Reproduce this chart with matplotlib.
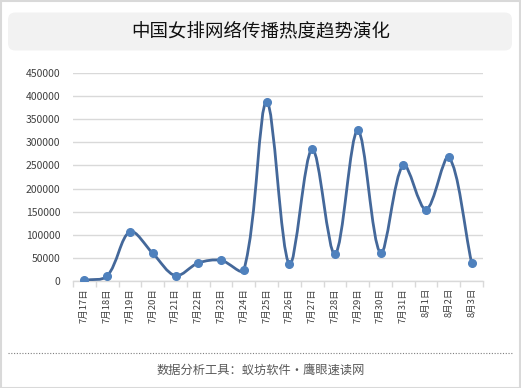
import numpy as np
import matplotlib.pyplot as plt
from matplotlib.path import Path
from matplotlib.patches import PathPatch, FancyBboxPatch, Rectangle
from matplotlib.lines import Line2D

plt.rcParams['font.family'] = ['Noto Sans CJK SC', 'DejaVu Sans']

title = '中国女排网络传播热度趋势演化'
footer = '数据分析工具：蚁坊软件·鹰眼速读网'
dates = ['7月17日', '7月18日', '7月19日', '7月20日', '7月21日', '7月22日',
         '7月23日', '7月24日', '7月25日', '7月26日', '7月27日', '7月28日',
         '7月29日', '7月30日', '7月31日', '8月1日', '8月2日', '8月3日']
heat = [1500, 10800, 106700, 60000, 11500, 39000,
        44800, 23800, 388000, 36000, 285700, 57800,
        326000, 60600, 251000, 154300, 267700, 39000]


def smooth_path(ax, x, y):
	# Smoothed line like Excel: bezier built in screen space, tangent split by chord length
	pts = ax.transData.transform(np.column_stack([x, y]))
	n = len(pts)
	tang = []
	for i in range(n):
		p_prev = pts[max(i - 1, 0)]
		p_next = pts[min(i + 1, n - 1)]
		d_in = np.linalg.norm(pts[i] - p_prev)
		d_out = np.linalg.norm(p_next - pts[i])
		t = p_next - p_prev
		tot = d_in + d_out
		if tot == 0:
			tang.append((np.zeros(2), np.zeros(2)))
		else:
			tang.append((t * d_in / tot / 3, t * d_out / tot / 3))
	verts = [pts[0]]
	codes = [Path.MOVETO]
	for i in range(n - 1):
		c1 = pts[i] + tang[i][1]
		c2 = pts[i + 1] - tang[i + 1][0]
		verts += [c1, c2, pts[i + 1]]
		codes += [Path.CURVE4] * 3
	verts = ax.transData.inverted().transform(np.array(verts))
	return Path(verts, codes)


fig = plt.figure(figsize=(5.21, 3.88), dpi=100)

# outer border, title box and dotted separator
fig.patches.append(Rectangle((0.001, 0.001), 0.997, 0.996, transform=fig.transFigure,
                             fill=False, ec='#d9d9d9', lw=1.5))
fig.patches.append(FancyBboxPatch((8 / 521, 1 - 50.5 / 388), 504 / 521, 38 / 388,
                                  boxstyle='round,pad=0,rounding_size=0.014',
                                  transform=fig.transFigure, fc='#f2f2f2', ec='none',
                                  mutation_aspect=521 / 388))
fig.text(261 / 521, 1 - 31 / 388, title, ha='center', va='center', fontsize=13.3, color='#111111')
fig.lines.append(Line2D([8 / 521, 513 / 521], [1 - 352.5 / 388] * 2, transform=fig.transFigure,
                        color='#7f7f7f', lw=0.8, ls=(0, (1, 1.5))))
fig.text(261 / 521, 1 - 370.5 / 388, footer, ha='center', va='center', fontsize=8.8, color='#595959')

ax = fig.add_axes([73 / 521, 107 / 388, 410 / 521, 208 / 388])
xs = np.arange(len(dates))

ax.set_xlim(-0.5, len(dates) - 0.5)
ax.set_ylim(0, 450000)
ax.add_patch(PathPatch(smooth_path(ax, xs, heat), fc='none', ec='#44689a', lw=2, zorder=3))
ax.plot(xs, heat, lw=0, marker='o', ms=5.5, color='#4f81bd', zorder=4)

ax.set_yticks(np.arange(0, 450001, 50000))
ax.set_yticklabels([str(v) for v in range(0, 450001, 50000)])
ax.grid(axis='y', color='#d9d9d9', lw=1)
ax.set_axisbelow(True)

ax.set_xticks(xs)
ax.set_xticklabels(dates, rotation=90, fontsize=6.8, color='#404040')
ax.set_xticks(np.arange(-0.5, len(dates)), minor=True)
ax.tick_params(axis='x', which='major', length=0, pad=5)
ax.tick_params(axis='x', which='minor', length=4, color='#d9d9d9', width=1)
ax.tick_params(axis='y', length=0, labelsize=7.5, labelcolor='#404040', pad=9)

for s in ['top', 'right', 'left']:
	ax.spines[s].set_visible(False)
ax.spines['bottom'].set_color('#d9d9d9')
ax.spines['bottom'].set_linewidth(1)

plt.savefig('out.png', dpi=100)
